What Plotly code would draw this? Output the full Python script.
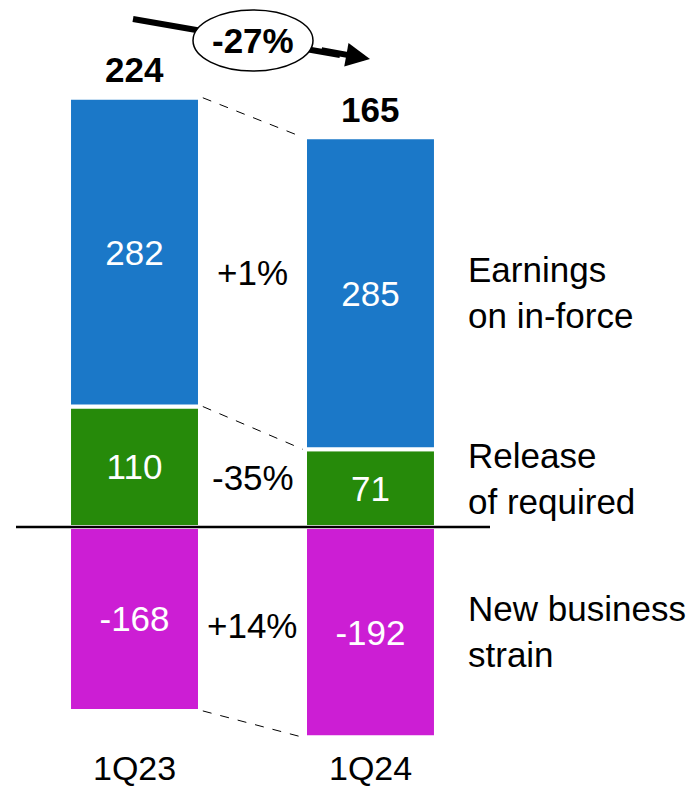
import plotly.graph_objects as go

# Capital generation components by quarter
periods = ["1Q23", "1Q24"]
earnings_in_force = [282, 285]
release_required = [110, 71]
new_business_strain = [-168, -192]
totals = [224, 165]
component_changes = ["+1%", "-35%", "+14%"]
total_change = "-27%"
component_names = ["Earnings<br>on in-force", "Release<br>of required", "New business<br>strain"]

BLUE = "#1B78C8"
GREEN = "#268A0A"
MAGENTA = "#CC1ED4"
FONT = "Arial, Liberation Sans, sans-serif"

W, H = 690, 788
xpos = [0, 1]
bar_w = 0.555


def px_x(v):
    return v / W


def px_y(v):
    return 1 - v / H


fig = go.Figure()
for vals, col in [(release_required, GREEN), (earnings_in_force, BLUE), (new_business_strain, MAGENTA)]:
    fig.add_trace(go.Bar(
        x=xpos, y=vals, width=bar_w,
        marker=dict(color=col, line=dict(color="white", width=4)),
        text=[str(v) for v in vals], textposition="inside",
        insidetextanchor="middle",
        textfont=dict(color="white", size=35, family=FONT),
        hoverinfo="skip",
    ))

fig.update_layout(
    barmode="relative",
    width=W, height=H,
    margin=dict(l=0, r=0, t=0, b=0),
    paper_bgcolor="white", plot_bgcolor="white",
    showlegend=False,
    uniformtext=dict(minsize=35, mode="show"),
    xaxis=dict(range=[-0.57, 2.354], visible=False, fixedrange=True),
    yaxis=dict(range=[-238.4, 481.3], visible=False, fixedrange=True),
)

shapes = []
annotations = []

# Zero baseline
shapes.append(dict(type="line", xref="paper", yref="y", x0=px_x(16), x1=px_x(490), y0=0, y1=0,
                   line=dict(color="black", width=2.5), layer="above"))

# Dashed connectors between matching segment edges
half = bar_w / 2
pairs = [
    (earnings_in_force[0] + release_required[0], earnings_in_force[1] + release_required[1]),
    (release_required[0], release_required[1]),
    (new_business_strain[0], new_business_strain[1]),
]
for ya, yb in pairs:
    shapes.append(dict(type="line", xref="x", yref="y",
                       x0=xpos[0] + half + 0.012, x1=xpos[1] - half - 0.01,
                       y0=ya, y1=yb,
                       line=dict(color="black", width=1, dash="dash")))

# Percentage changes between the bars
centers_a = [release_required[0] + earnings_in_force[0] / 2, release_required[0] / 2, new_business_strain[0] / 2]
centers_b = [release_required[1] + earnings_in_force[1] / 2, release_required[1] / 2, new_business_strain[1] / 2]
for lab, ca, cb in zip(component_changes, centers_a, centers_b):
    annotations.append(dict(x=0.5, y=(ca + cb) / 2, xref="x", yref="y", text=lab,
                            showarrow=False, xanchor="center", yanchor="middle",
                            font=dict(size=35, color="black", family=FONT)))

# Totals above bars
tops = [earnings_in_force[i] + release_required[i] for i in range(2)]
for xp, top, tot in zip(xpos, tops, totals):
    annotations.append(dict(x=xp, y=top, xref="x", yref="y", text=f"<b>{tot}</b>",
                            showarrow=False, xanchor="center", yanchor="middle", yshift=28,
                            font=dict(size=35, color="black", family=FONT)))

# Period labels
for xp, p in zip(xpos, periods):
    annotations.append(dict(x=xp, y=px_y(768), xref="x", yref="paper", text=p,
                            showarrow=False, xanchor="center", yanchor="middle",
                            font=dict(size=34, color="black", family=FONT)))

# Component names on the right
for name, yc in zip(component_names, [292, 478, 631]):
    annotations.append(dict(x=px_x(466), y=px_y(yc), xref="paper", yref="paper", text=name,
                            showarrow=False, xanchor="left", yanchor="middle", align="left",
                            font=dict(size=35, color="black", family=FONT)))

# Overall change arrow with ellipse
shapes.append(dict(type="line", xref="paper", yref="paper",
                   x0=px_x(133), y0=px_y(19), x1=px_x(340), y1=px_y(55),
                   line=dict(color="black", width=6), layer="above"))
shapes.append(dict(type="circle", xref="paper", yref="paper",
                   x0=px_x(193), x1=px_x(313), y0=px_y(10), y1=px_y(71),
                   fillcolor="white", line=dict(color="black", width=1.5), layer="above"))
annotations.append(dict(x=px_x(370), y=px_y(59), xref="paper", yref="paper", text="",
                        showarrow=True, ax=-50, ay=-9, arrowhead=2, arrowsize=0.8,
                        arrowwidth=6, arrowcolor="black", standoff=0))
annotations.append(dict(x=px_x(253), y=px_y(41), xref="paper", yref="paper",
                        xanchor="center", yanchor="middle",
                        text=f"<b>{total_change}</b>", showarrow=False,
                        font=dict(size=35, color="black", family=FONT)))

fig.update_layout(shapes=shapes, annotations=annotations)
fig.write_html("out.html")
